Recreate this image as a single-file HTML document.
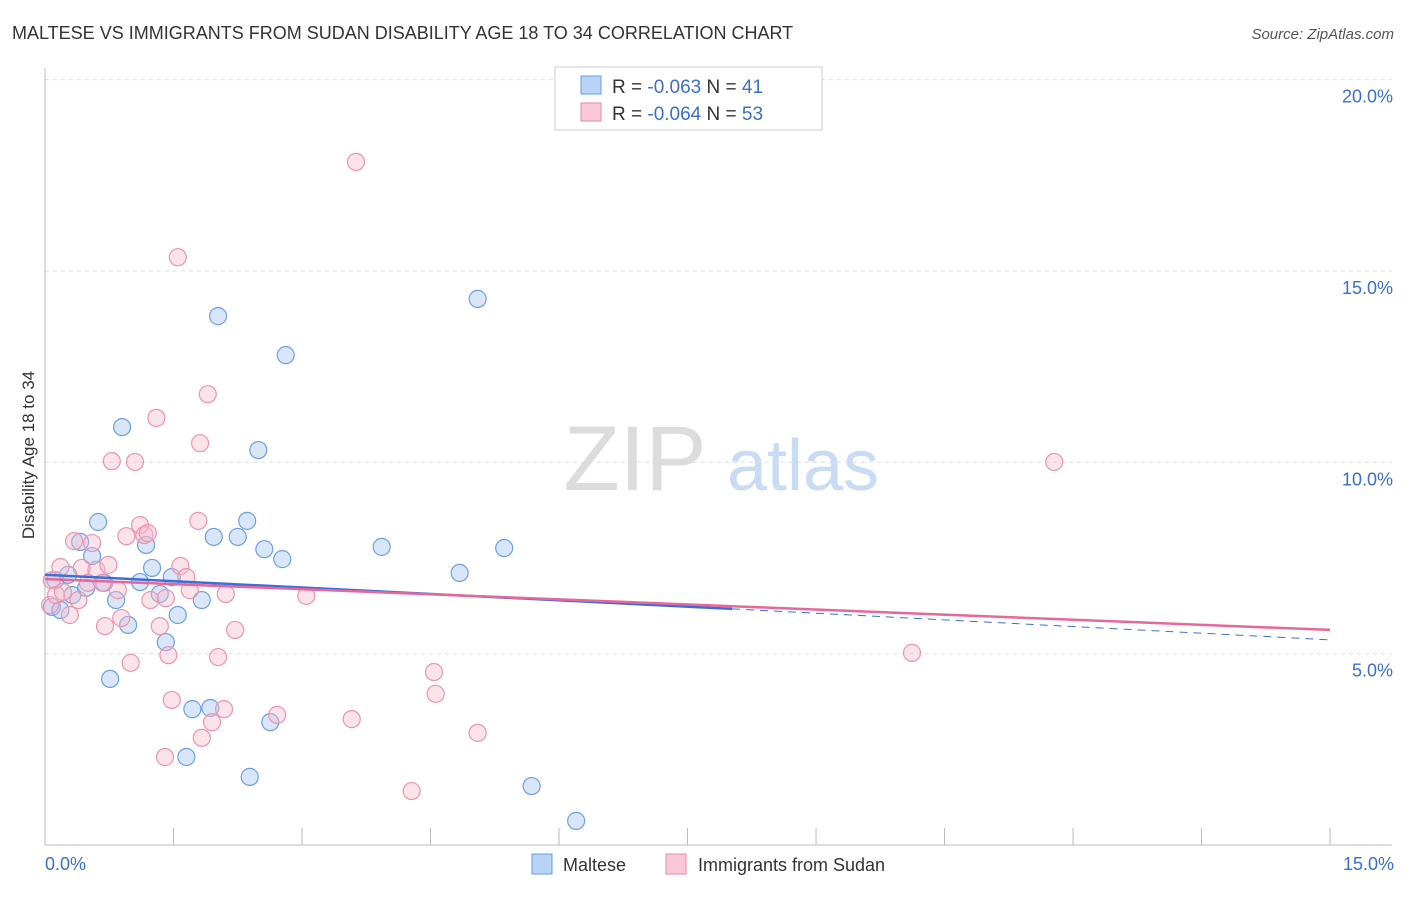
<!DOCTYPE html>
<html><head><meta charset="utf-8"><style>
body{margin:0;background:#fff;font-family:"Liberation Sans",sans-serif;}
svg text{font-family:"Liberation Sans",sans-serif;}
</style></head><body>
<svg width="1406" height="892" xmlns="http://www.w3.org/2000/svg">
<text x="12" y="39" font-size="18" fill="#333">MALTESE VS IMMIGRANTS FROM SUDAN DISABILITY AGE 18 TO 34 CORRELATION CHART</text>
<text x="1394" y="39" font-size="15" fill="#555" text-anchor="end" font-style="italic">Source: ZipAtlas.com</text>
<g id="grid"></g>
<g><text x="635" y="490" font-size="92" fill="#dcdcdc" text-anchor="middle" font-family="Liberation Serif,serif">ZIP</text><text x="803" y="490" font-size="72" fill="#c9dcf3" text-anchor="middle">atlas</text></g>
<line x1="45" y1="68" x2="45" y2="845" stroke="#bbb"/>
<line x1="45" y1="845" x2="1392" y2="845" stroke="#bbb"/>
<text transform="translate(34,455) rotate(-90)" font-size="17" fill="#333" text-anchor="middle">Disability Age 18 to 34</text>
<text x="45" y="870" font-size="18" fill="#3a6fd0">0.0%</text>
<text x="1394" y="870" font-size="18" fill="#3a6fd0" text-anchor="end">15.0%</text>
<g id="ylabels"></g>
<g id="pts"></g>
<g id="lines"></g>
<g>
<rect x="555" y="67" width="267" height="63" fill="#fff" stroke="#ccc"/>
<rect x="581" y="76" width="20" height="18" fill="#b8d3f5" stroke="#6a9ee0"/>
<rect x="581" y="103" width="20" height="18" fill="#f9c9d8" stroke="#e88aa8"/>
<text x="612" y="93" font-size="19" fill="#333">R = <tspan fill="#3a6fd0">-0.063</tspan>   N = <tspan fill="#3a6fd0">41</tspan></text>
<text x="612" y="120" font-size="19" fill="#333">R = <tspan fill="#3a6fd0">-0.064</tspan>   N = <tspan fill="#3a6fd0">53</tspan></text>
</g>
<g>
<rect x="532" y="854" width="20" height="20" fill="#b8d3f5" stroke="#6a9ee0"/>
<text x="563" y="871" font-size="18" fill="#333">Maltese</text>
<rect x="666" y="854" width="20" height="20" fill="#f9c9d8" stroke="#e88aa8"/>
<text x="698" y="871" font-size="18" fill="#333">Immigrants from Sudan</text>
</g>
</svg>
<script>
const blueX=[0.08,0.12,0.18,0.27,0.32,0.41,0.48,0.55,0.62,0.69,0.76,0.83,0.90,0.97,1.11,1.18,1.25,1.34,1.41,1.48,1.55,1.65,1.72,1.83,1.93,1.97,2.02,2.25,2.36,2.39,2.49,2.56,2.63,2.77,2.81,3.93,4.84,5.05,5.36,5.68,6.20];
const blueY=[6.22,6.92,6.14,7.06,6.53,7.92,6.72,7.55,8.44,6.85,4.34,6.40,10.92,5.75,6.87,7.84,7.24,6.56,5.30,7.00,6.01,2.30,3.55,6.40,3.58,8.05,13.82,8.05,8.47,1.78,10.32,7.73,3.21,7.47,12.80,7.79,7.11,14.27,7.76,1.54,0.63];
const pinkX=[0.06,0.08,0.13,0.18,0.21,0.29,0.34,0.39,0.43,0.50,0.55,0.60,0.67,0.70,0.74,0.78,0.85,0.89,0.95,1.00,1.05,1.11,1.16,1.20,1.23,1.30,1.34,1.41,1.44,1.48,1.55,1.58,1.65,1.69,1.79,1.81,1.83,1.90,1.95,2.02,2.09,2.11,2.22,2.71,3.05,3.58,3.63,4.28,4.54,4.56,5.05,10.12,11.78,1.40];
const pinkY=[6.27,6.92,6.53,7.26,6.61,6.01,7.94,6.40,7.24,6.85,7.89,7.19,6.85,5.72,7.32,10.03,6.66,5.93,8.07,4.76,10.01,8.36,8.10,8.15,6.40,11.16,5.72,6.45,4.96,3.79,15.36,7.29,7.00,6.66,8.47,10.50,2.80,11.78,3.21,4.91,3.55,6.56,5.62,3.40,6.51,3.29,17.85,1.41,4.52,3.95,2.93,5.02,10.01,2.30];
const yTicks=[5,10,15,20];
const yTickLabels=["5.0%","10.0%","15.0%","20.0%"];
const xTicks=[0,1.5,3,4.5,6,7.5,9,10.5,12,13.5,15];
const blueTrend=[7.06,6.17,5.36]; // at x=0, 8.02, 15
const blueTrendX=[0,8.02,15];
const pinkTrend=[6.95,5.62];
const pinkTrendX=[0,15];
const NS="http://www.w3.org/2000/svg";
const sx=v=>45+v*85.67, sy=v=>845-v*38.27;
function mk(t,a,p){const e=document.createElementNS(NS,t);for(const k in a)e.setAttribute(k,a[k]);p.appendChild(e);return e;}
const grid=document.getElementById('grid'),yl=document.getElementById('ylabels');
yTicks.forEach((t,i)=>{
 const l=mk('line',{x1:45,x2:1392,y1:sy(t),y2:sy(t),stroke:'#ddd','stroke-dasharray':'4,4'},grid);
 
 
 const tx=mk('text',{x:1393,y:sy(t)+23,'font-size':18,fill:'#3a6fd0','text-anchor':'end'},yl);
 tx.textContent=yTickLabels[i];
 
 
});
xTicks.forEach(t=>{
 const l=mk('line',{x1:sx(t),x2:sx(t),y1:828,y2:845,stroke:'#bbb'},grid);
 
 
});
const pts=document.getElementById('pts');
blueX.forEach((x,i)=>{
 const c=mk('circle',{cx:sx(x),cy:sy(blueY[i]),r:8.5,fill:'rgba(168,200,240,0.45)',stroke:'#6f9fe0','stroke-width':1.2},pts);
 
 
});
pinkX.forEach((x,i)=>{
 const c=mk('circle',{cx:sx(x),cy:sy(pinkY[i]),r:8.5,fill:'rgba(245,184,203,0.4)',stroke:'#ec94b0','stroke-width':1.2},pts);
 
 
});
const lines=document.getElementById('lines');
const b1=mk('line',{x1:sx(blueTrendX[0]),y1:sy(blueTrend[0]),x2:sx(blueTrendX[1]),y2:sy(blueTrend[1]),stroke:'#3a6fd8','stroke-width':2.5},lines);


const b2=mk('line',{x1:sx(blueTrendX[1]),y1:sy(blueTrend[1]),x2:sx(blueTrendX[2]),y2:sy(blueTrend[2]),stroke:'#3a6fd8','stroke-width':1,'stroke-dasharray':'8,6'},lines);


const p1=mk('line',{x1:sx(pinkTrendX[0]),y1:sy(pinkTrend[0]),x2:sx(pinkTrendX[1]),y2:sy(pinkTrend[1]),stroke:'#e8679a','stroke-width':2.5},lines);


</script>
</body></html>
